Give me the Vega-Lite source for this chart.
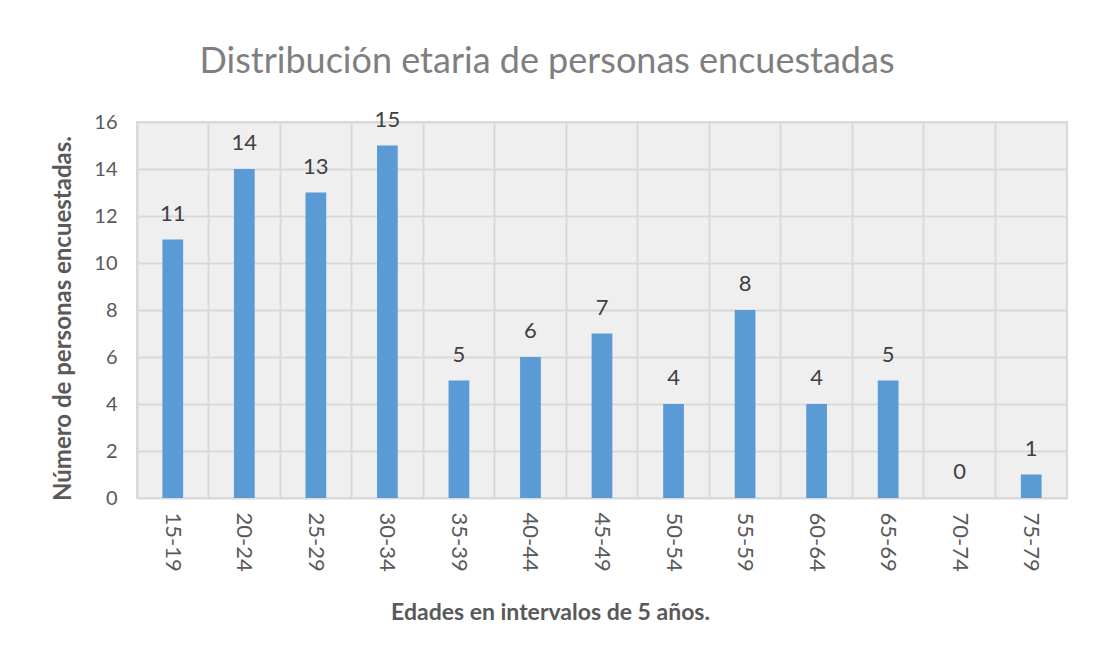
{
  "$schema": "https://vega.github.io/schema/vega-lite/v6.json",
  "width": 930,
  "height": 376,
  "autosize": {"type": "none"},
  "padding": {"left": 137, "top": 122, "right": 27, "bottom": 162},
  "background": "white",
  "title": {
    "text": "Distribución etaria de personas encuestadas",
    "font": "Lato",
    "fontSize": 36,
    "fontWeight": "normal",
    "color": "#7f7f7f",
    "anchor": "middle",
    "frame": "group",
    "dx": -55,
    "offset": 0,
    "baseline": "alphabetic"
  },
  "config": {
    "view": {"stroke": "#d9d9d9", "strokeWidth": 2, "fill": "#efefef"},
    "font": "Lato"
  },
  "data": {
    "values": [
      {"edad": "15-19", "n": 11},
      {"edad": "20-24", "n": 14},
      {"edad": "25-29", "n": 13},
      {"edad": "30-34", "n": 15},
      {"edad": "35-39", "n": 5},
      {"edad": "40-44", "n": 6},
      {"edad": "45-49", "n": 7},
      {"edad": "50-54", "n": 4},
      {"edad": "55-59", "n": 8},
      {"edad": "60-64", "n": 4},
      {"edad": "65-69", "n": 5},
      {"edad": "70-74", "n": 0},
      {"edad": "75-79", "n": 1}
    ]
  },
  "encoding": {
    "x": {
      "field": "edad",
      "type": "nominal",
      "sort": null,
      "scale": {"paddingInner": 0, "paddingOuter": 0},
      "axis": {
        "title": "Edades en intervalos de 5 años.",
        "titleFont": "Lato",
        "titleFontSize": 23,
        "titleFontWeight": "bold",
        "titleColor": "#595959",
        "titlePadding": 30,
        "titleX": 413,
        "titleAnchor": "middle",
        "labelAngle": 90,
        "labelFont": "Lato",
        "labelFontSize": 22,
        "labelColor": "#595959",
        "labelPadding": 14,
        "ticks": false,
        "domain": false,
        "grid": true,
        "gridColor": "#d9d9d9",
        "gridWidth": 2,
        "bandPosition": 0
      }
    },
    "y": {
      "field": "n",
      "type": "quantitative",
      "scale": {"domain": [0, 16], "nice": false},
      "axis": {
        "title": "Número de personas encuestadas.",
        "titleFont": "Lato",
        "titleFontSize": 24,
        "titleFontWeight": "bold",
        "titleColor": "#595959",
        "titlePadding": 18,
        "titleY": 196,
        "titleAnchor": "middle",
        "values": [0, 2, 4, 6, 8, 10, 12, 14, 16],
        "labelFont": "Lato",
        "labelFontSize": 20,
        "labelColor": "#595959",
        "labelPadding": 20,
        "ticks": false,
        "domain": false,
        "grid": true,
        "gridColor": "#d9d9d9",
        "gridWidth": 2
      }
    }
  },
  "layer": [
    {
      "mark": {"type": "bar", "color": "#5b9bd5", "width": {"band": 0.29}}
    },
    {
      "mark": {"type": "text", "font": "Lato", "fontSize": 22, "color": "#404040", "baseline": "alphabetic", "dy": -19},
      "encoding": {"text": {"field": "n", "type": "quantitative"}}
    }
  ]
}
